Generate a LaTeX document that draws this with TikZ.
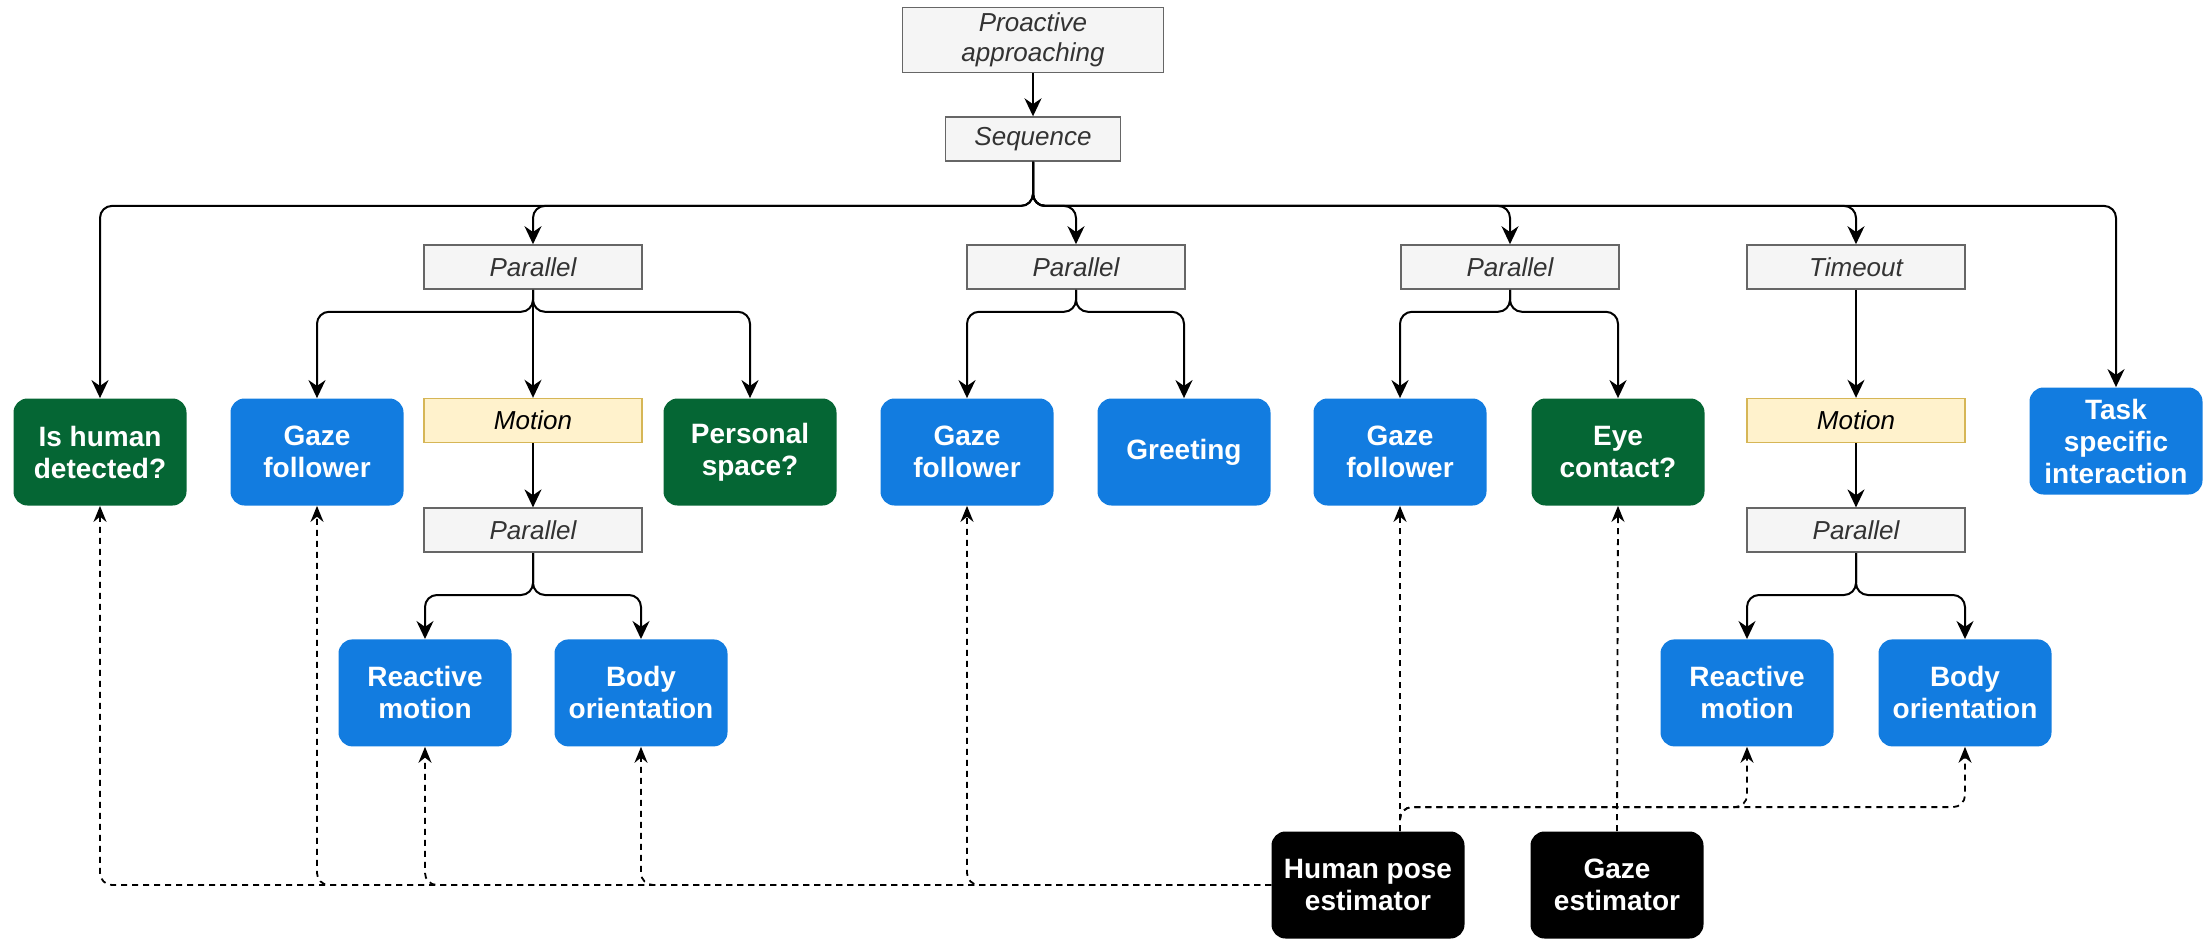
\documentclass[tikz,border=0pt]{standalone}
\usepackage{fontspec}
\setmainfont{Liberation Sans}
\usepackage{tikz}
\usetikzlibrary{arrows.meta, positioning}
\definecolor{btgreen}{RGB}{5,102,52}
\definecolor{btblue}{RGB}{18,124,224}
\definecolor{btgrey}{RGB}{245,245,245}
\definecolor{btgreyline}{RGB}{102,102,102}
\definecolor{btyellow}{RGB}{255,242,204}
\definecolor{btyellowline}{RGB}{214,182,86}
\tikzset{
  ctrl/.style={
    rectangle, draw=btgreyline, fill=btgrey, text=black!80,
    line width=0.8pt, minimum width=109pt, minimum height=22pt,
    inner sep=2pt, align=center,
    font=\fontsize{13}{15}\selectfont\itshape
  },
  decor/.style={ctrl, draw=btyellowline, fill=btyellow, text=black},
  leaf/.style={
    rectangle, rounded corners=7pt,
    minimum width=86.5pt, minimum height=53.5pt,
    inner sep=2pt, align=center, text=white,
    font=\fontsize{14}{16}\selectfont\bfseries
  },
  action/.style={leaf, fill=btblue},
  cond/.style={leaf, fill=btgreen},
  sensor/.style={leaf, fill=black},
  arrow/.style={-{Stealth[length=9pt, width=8.5pt]}, line width=1pt, rounded corners=6pt},
  dataarrow/.style={-{Stealth[length=8pt, width=6.5pt]}, line width=0.9pt,
    dash pattern=on 3pt off 2.5pt, rounded corners=6pt}
}

\begin{document}
\begin{tikzpicture}[x=0.5pt, y=-0.5pt]

  \useasboundingbox (0,0) rectangle (2208,938);

  % Root and sequence
  \node[ctrl, minimum width=130.5pt, minimum height=32.5pt] (proact) at (1033,40) {Proactive\\approaching};
  \node[ctrl, minimum width=87.5pt, below=21.5pt of proact] (seq) {Sequence};

  % Control nodes under the sequence
  \node[ctrl] (par1) at (533,267) {Parallel};
  \node[ctrl] (par2) at (1076,267) {Parallel};
  \node[ctrl] (par3) at (1510,267) {Parallel};
  \node[ctrl] (tout) at (1856,267) {Timeout};

  % Motion branches
  \node[decor, below=54pt of par1] (mot1) {Motion};
  \node[ctrl, below=32pt of mot1] (par1b) {Parallel};
  \node[decor, below=54pt of tout] (mot2) {Motion};
  \node[ctrl, below=32pt of mot2] (par2b) {Parallel};

  % Leaves (top row)
  \node[cond] (ishuman) at (100,452) {Is human\\detected?};
  \node[action] (gf1) at (317,452) {Gaze\\follower};
  \node[cond] (perssp) at (750,452) {Personal\\space?};
  \node[action] (gf2) at (967,452) {Gaze\\follower};
  \node[action] (greet) at (1184,452) {Greeting};
  \node[action] (gf3) at (1400,452) {Gaze\\follower};
  \node[cond] (eyec) at (1618,452) {Eye\\contact?};
  \node[action] (task) at (2116,441) {Task\\specific\\interaction};

  % Leaves under motion
  \node[action, below=43pt of par1b, xshift=-54pt] (react1) {Reactive\\motion};
  \node[action, below=43pt of par1b, xshift=54pt] (body1) {Body\\orientation};
  \node[action, below=43pt of par2b, xshift=-54.5pt] (react2) {Reactive\\motion};
  \node[action, below=43pt of par2b, xshift=54.5pt] (body2) {Body\\orientation};

  % Perception modules
  \node[sensor, minimum width=96.5pt] (hpe) at (1368,885) {Human pose\\estimator};
  \node[sensor] (gazeest) at (1617,885) {Gaze\\estimator};

  % Arrows — tree
  \draw[arrow] (proact) -- (seq);
  \draw[arrow] (seq.south) -- ++(0,44) -| (ishuman.north);
  \draw[arrow] (seq.south) -- ++(0,44) -| (par1.north);
  \draw[arrow] (seq.south) -- ++(0,44) -| (par2.north);
  \draw[arrow] (seq.south) -- ++(0,44) -| (par3.north);
  \draw[arrow] (seq.south) -- ++(0,44) -| (tout.north);
  \draw[arrow] (seq.south) -- ++(0,44) -| (task.north);

  \draw[arrow] (par1.south) -- ++(0,22) -| (gf1.north);
  \draw[arrow] (par1) -- (mot1);
  \draw[arrow] (par1.south) -- ++(0,22) -| (perssp.north);
  \draw[arrow] (mot1) -- (par1b);
  \draw[arrow] (par1b.south) -- ++(0,42) -| (react1.north);
  \draw[arrow] (par1b.south) -- ++(0,42) -| (body1.north);

  \draw[arrow] (par2.south) -- ++(0,22) -| (gf2.north);
  \draw[arrow] (par2.south) -- ++(0,22) -| (greet.north);

  \draw[arrow] (par3.south) -- ++(0,22) -| (gf3.north);
  \draw[arrow] (par3.south) -- ++(0,22) -| (eyec.north);

  \draw[arrow] (tout) -- (mot2);
  \draw[arrow] (mot2) -- (par2b);
  \draw[arrow] (par2b.south) -- ++(0,42) -| (react2.north);
  \draw[arrow] (par2b.south) -- ++(0,42) -| (body2.north);

  % Arrows — perception inputs
  \draw[dataarrow] (hpe.west) -| (ishuman.south);
  \draw[dataarrow] (hpe.west) -| (gf1.south);
  \draw[dataarrow] (hpe.west) -| (react1.south);
  \draw[dataarrow] (hpe.west) -| (body1.south);
  \draw[dataarrow] (hpe.west) -| (gf2.south);
  \draw[dataarrow] (hpe.north -| gf3.south) -- (gf3.south);
  \draw[dataarrow] (hpe.north -| gf3.south) -- ++(0,-24) -| (react2.south);
  \draw[dataarrow] (hpe.north -| gf3.south) -- ++(0,-24) -| (body2.south);
  \draw[dataarrow] (gazeest.north) -- (eyec.south);

\end{tikzpicture}
\end{document}
